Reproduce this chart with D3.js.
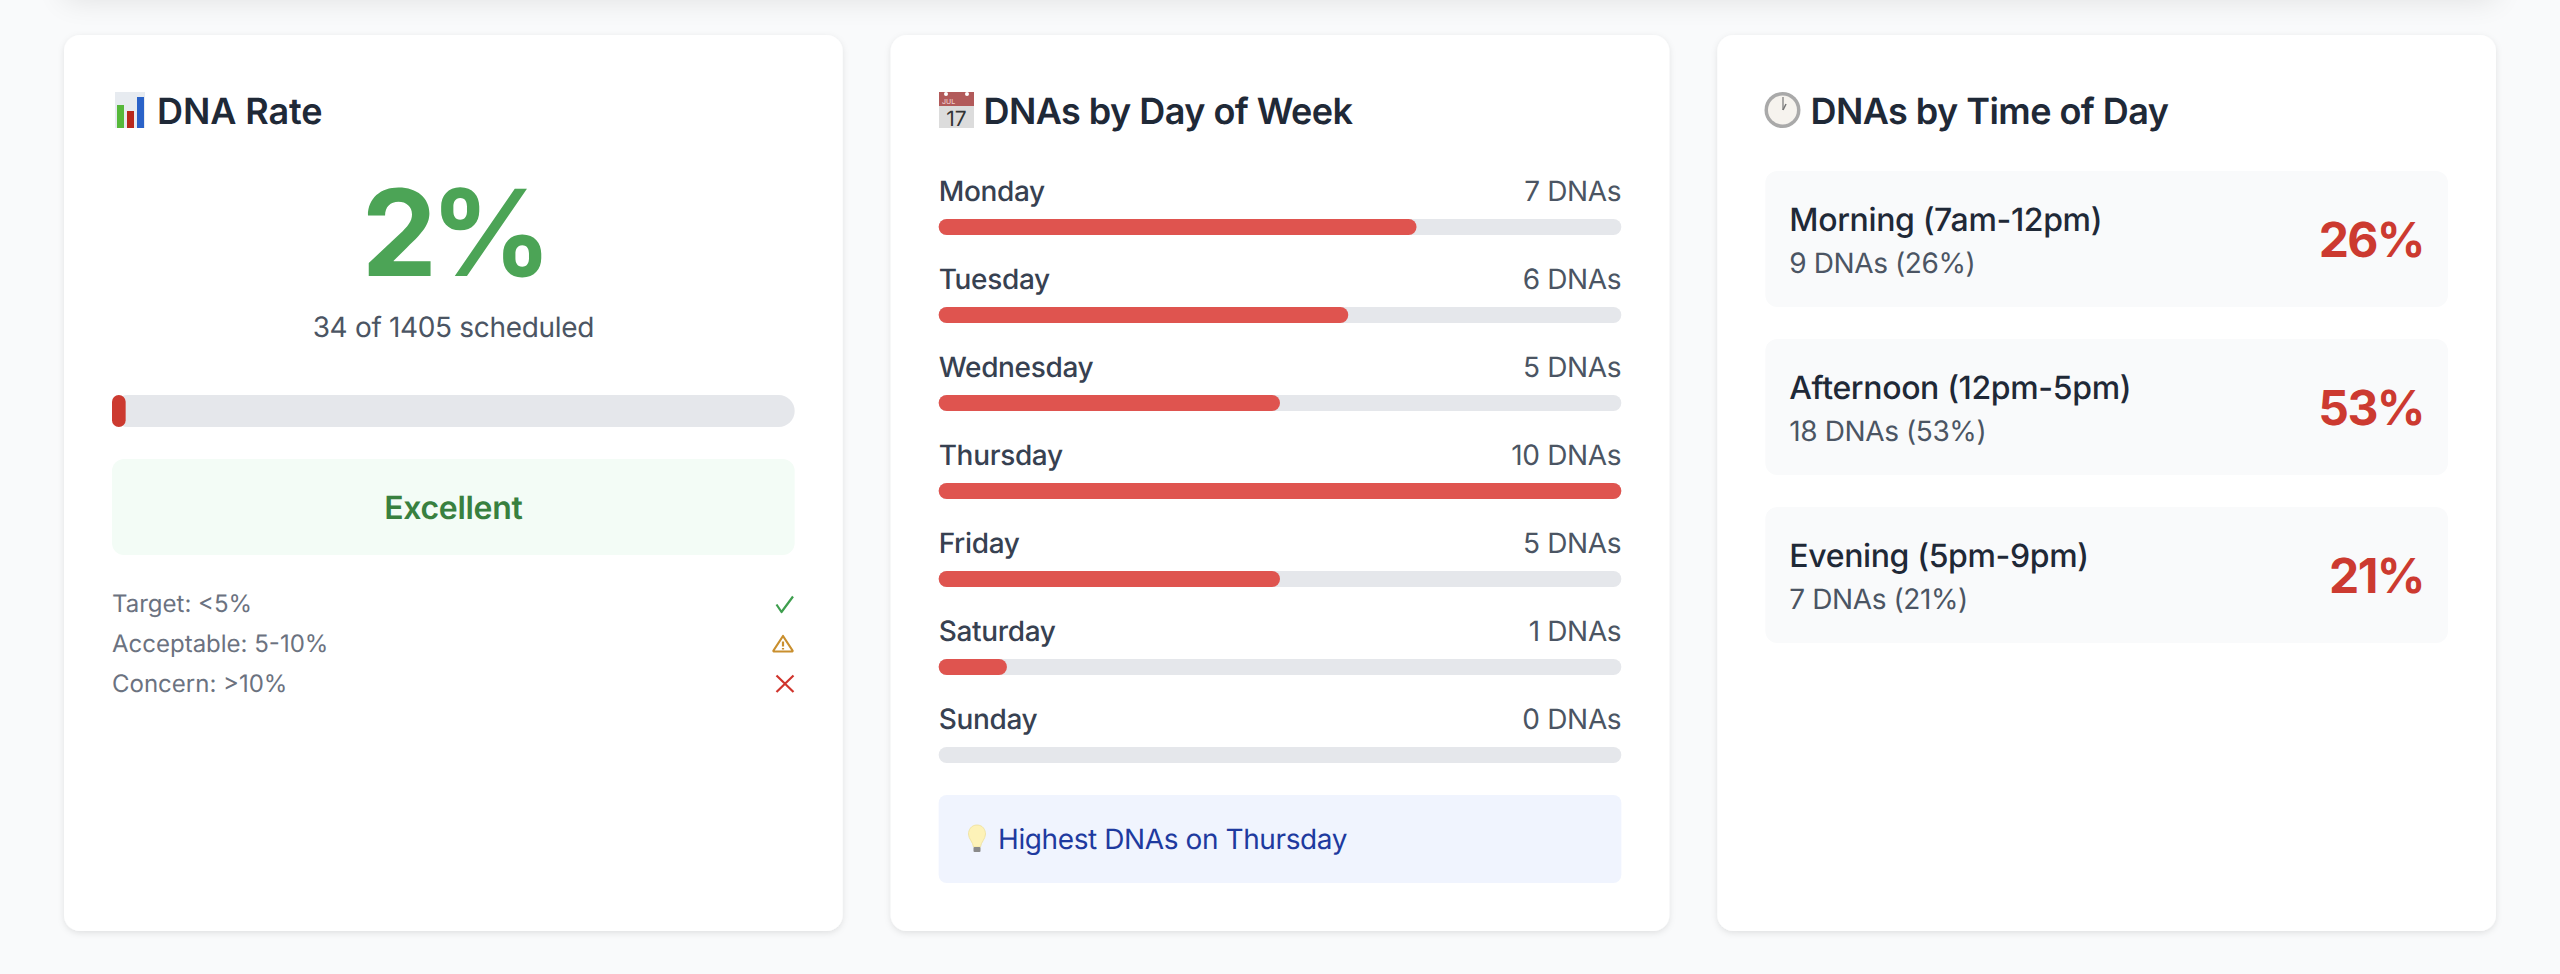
<!DOCTYPE html>
<html><head><meta charset="utf-8">
<script src="https://cdn.jsdelivr.net/npm/d3@7"></script>
<style>html,body{margin:0;padding:0;background:#f9fafb;overflow:hidden}svg{display:block}text{font-family:Inter,"Noto Sans",sans-serif;text-rendering:geometricPrecision}</style>
</head><body><svg id="c" width="2560" height="974"></svg>
<script>
const titles = ["DNA Rate","DNAs by Day of Week","DNAs by Time of Day"];
const rateValue = 2;
const rateCaption = "34 of 1405 scheduled";
const rateStatus = "Excellent";
const thresholds = ["Target: <5%","Acceptable: 5-10%","Concern: >10%"];
const days = ["Monday","Tuesday","Wednesday","Thursday","Friday","Saturday","Sunday"];
const dayCounts = [7,6,5,10,5,1,0];
const dayNote = "Highest DNAs on Thursday";
const periods = ["Morning (7am-12pm)","Afternoon (12pm-5pm)","Evening (5pm-9pm)"];
const periodCounts = [9,18,7];
const periodShares = [26,53,21];

const W=2560,H=974,cardW=2336/3,gap=48,pad=48,cardTop=35,cardH=896;
const svg=d3.select("#c");
svg.append("rect").attr("width",W).attr("height",H).attr("fill","#f9fafb");
const defs=svg.append("defs");
const cs=defs.append("filter").attr("id","cs").attr("x","-5%").attr("y","-5%").attr("width","110%").attr("height","110%");
cs.append("feDropShadow").attr("dx",0).attr("dy",2).attr("stdDeviation",3).attr("flood-color","#000").attr("flood-opacity",0.1);
const ts=defs.append("filter").attr("id","ts").attr("x","-10%").attr("y","-100%").attr("width","120%").attr("height","400%");
ts.append("feGaussianBlur").attr("stdDeviation",15);
svg.append("rect").attr("x",64).attr("y",-90).attr("width",2432).attr("height",90).attr("fill","#000").attr("opacity",0.1).attr("filter","url(#ts)");

const X=i=>64+i*(cardW+gap);
const C=[0,1,2].map(i=>X(i)+pad);
const innerW=cardW-2*pad;
function txt(g,x,y,s,size,weight,fill,anchor,ls){return g.append("text").attr("x",x).attr("y",y).attr("font-size",size).attr("font-weight",weight).attr("fill",fill).attr("text-anchor",anchor||"start").attr("letter-spacing",ls||0).text(s);}
function box(g,x,y,w,h,r,fill){return g.append("rect").attr("x",x).attr("y",y).attr("width",w).attr("height",h).attr("rx",r).attr("ry",r).attr("fill",fill);}

svg.selectAll("rect.card").data(d3.range(3)).join("rect").attr("class","card")
 .attr("x",X).attr("y",cardTop).attr("width",cardW).attr("height",cardH).attr("rx",16).attr("fill","#fff").attr("filter","url(#cs)");

const titleX=[157,983.5,1810.5];
const titleLs=[-0.1,-0.55,-0.55];
titles.forEach((t,i)=>txt(svg,titleX[i],124,t,36,600,"#1f2937","start",titleLs[i]));

// emoji-like icons
const e1=svg.append("g");
box(e1,115,92,30,36,0,"#e7ebf0");
[[117,105,"#56b83a"],[127,111,"#b8281c"],[137,97,"#2a62c8"]].forEach(d=>box(e1,d[0],d[1],7,128-d[1],0,d[2]));
const e2=svg.append("g");
box(e2,939,92,35,36,0,"#dcdcdc");
box(e2,939,92,35,14,0,"#b25a5a");
[946,967].forEach(x=>e2.append("circle").attr("cx",x).attr("cy",94).attr("r",2).attr("fill","#fff"));
txt(e2,942,104,"JUL",7,500,"#eccaca");
txt(e2,956.5,125.5,"17",21,400,"#333","middle");
const e3=svg.append("g");
e3.append("circle").attr("cx",1782.5).attr("cy",110).attr("r",18).attr("fill","#a9a9a9");
e3.append("circle").attr("cx",1782.5).attr("cy",110).attr("r",14.5).attr("fill","#f6f3ee");
e3.append("path").attr("d","M1783 110V97").attr("stroke","#777").attr("stroke-width",1.2);
e3.append("path").attr("d","M1783 110L1786 104").attr("stroke","#777").attr("stroke-width",1.5);

// DNA rate
const rateScale=d3.scaleLinear().domain([0,100]).range([0,innerW]);
txt(svg,X(0)+cardW/2,276,rateValue+"%",120,700,"#4ca456","middle",-7);
txt(svg,X(0)+cardW/2,337,rateCaption,28,400,"#4b5563","middle",-0.33);
box(svg,C[0],395,innerW,32,16,"#e5e7eb");
box(svg,C[0],395,rateScale(rateValue),32,rateScale(rateValue)/2,"#cc3a30");
box(svg,C[0],459,innerW,96,12,"#f3fcf6");
txt(svg,X(0)+cardW/2,519,rateStatus,32,600,"#38803f","middle",-0.3);
const thY=d3.scalePoint().domain(thresholds).range([611.7,691.7]);
thresholds.forEach(t=>txt(svg,C[0],thY(t),t,24,400,"#6b7280"));
const ic=svg.append("g").attr("fill","none").attr("stroke-width",2.2).attr("stroke-linecap","butt").attr("stroke-linejoin","round");
ic.append("path").attr("d","M776.5 604.5L781.5 612L793 596.5").attr("stroke","#3e9e4e");
ic.append("path").attr("d","M783 636L792.5 650.5Q793 651.5 791.5 651.5H774.5Q773 651.5 773.5 650.5Z").attr("stroke","#c98f2e");
ic.append("path").attr("d","M783 641.5V646.5M783 648V649.5").attr("stroke","#c98f2e");
ic.append("path").attr("d","M776.5 675.5L793.5 692M793.5 675.5L776.5 692").attr("stroke","#d0342c");

// by day
const dayX=d3.scaleLinear().domain([0,d3.max(dayCounts)]).range([0,innerW]);
const dayY=d3.scalePoint().domain(days).range([0,528]);
const rows=svg.selectAll("g.day").data(days).join("g").attr("class","day").attr("transform",d=>`translate(${C[1]},${dayY(d)})`);
rows.each(function(d,i){const g=d3.select(this);
 txt(g,0,201,d,28,500,"#374151","start",-0.33);
 txt(g,innerW,201,dayCounts[i]+" DNAs",28,400,"#4b5563","end",-0.33);
 box(g,0,219,innerW,16,8,"#e5e7eb");
 if(dayCounts[i]>0)box(g,0,219,dayX(dayCounts[i]),16,8,"#df544f");
});
box(svg,C[1],795,innerW,88,8,"#f0f4fe");
const b=svg.append("g");
b.append("path").attr("d","M977 825C971 825 968.5 830 968.5 834C968.5 839 973 842 973.5 847H980.5C981 842 985.5 839 985.5 834C985.5 830 983 825 977 825Z").attr("fill","#fdf2b8").attr("stroke","#eedf9a").attr("stroke-width",0.8);
box(b,973.5,847,7,5,1,"#8a8a8a");
txt(svg,998,849,dayNote,28,400,"#1e3a9f","start",-0.4);

// by time
const perY=d3.scalePoint().domain(periods).range([171,507]);
periods.forEach((p,i)=>{const g=svg.append("g").attr("transform",`translate(${C[2]},${perY(p)})`);
 box(g,0,0,innerW,136,12,"#f9fafb");
 txt(g,24,60,p,32,500,"#1f2937","start",-0.36);
 txt(g,24,102,`${periodCounts[i]} DNAs (${periodShares[i]}%)`,28,400,"#4b5563","start",-0.4);
 txt(g,innerW-24,86,periodShares[i]+"%",48,700,"#cc3a30","end",-1.6);
});
</script></body></html>
